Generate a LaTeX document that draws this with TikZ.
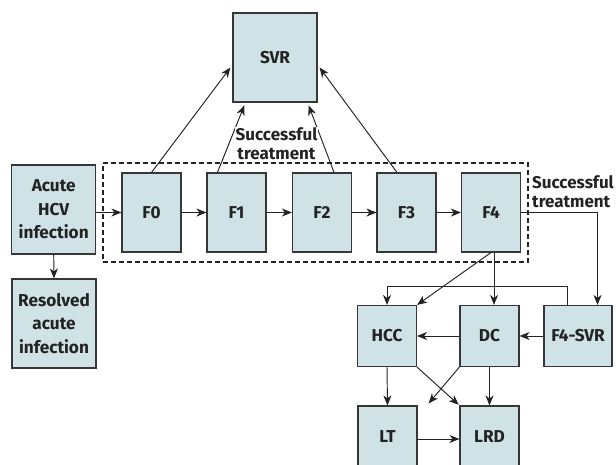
\documentclass[tikz,border=0pt]{standalone}
\usepackage{fontspec}
\setmainfont{Fira Sans}
\usetikzlibrary{arrows.meta,calc}
\definecolor{boxfill}{RGB}{207,226,230}
\definecolor{boxline}{RGB}{55,55,55}
\definecolor{ink}{RGB}{35,35,35}
\tikzset{
  box/.style={draw=boxline, fill=boxfill, line width=1.1pt, align=center, inner sep=0pt,
    font=\fontsize{17.2}{23.5}\selectfont\bfseries, text=ink},
  arr/.style={draw=ink, line width=0.95pt, -{Stealth[length=10pt,width=8pt,inset=3pt]}},
  grpbox/.style={draw=ink, line width=1.3pt, dash pattern=on 5pt off 3pt, inner sep=0pt},
  lbl/.style={font=\fontsize{17}{19}\selectfont\bfseries, text=ink, inner sep=1pt}
}
\begin{document}
\begin{tikzpicture}[x=1pt,y=-1pt]
\useasboundingbox (0,0) rectangle (616,464);
% group
\node[grpbox, minimum width=425pt, minimum height=99pt] (grp) at (315.5,212.5) {};
% boxes
\node[box, minimum width=84pt, minimum height=89pt] (SVR) at (275,57.5) {SVR};
\node[box, minimum width=84pt, minimum height=89pt] (Acute) at (53.7,209.5) {Acute\\HCV\\infection};
\node[box, minimum width=84pt, minimum height=89pt] (Res) at (54,323.5) {Resolved\\acute\\infection};
\node[box, minimum width=59pt, minimum height=79pt] (F0) at (151.5,212.5) {F0};
\node[box, minimum width=59pt, minimum height=79pt] (F1) at (236.5,212.5) {F1};
\node[box, minimum width=59pt, minimum height=79pt] (F2) at (322,212.5) {F2};
\node[box, minimum width=59pt, minimum height=79pt] (F3) at (406.5,212.5) {F3};
\node[box, minimum width=59pt, minimum height=79pt] (F4) at (491,212.5) {F4};
\node[box, minimum width=59pt, minimum height=61pt] (HCC) at (387,336) {HCC};
\node[box, minimum width=59pt, minimum height=61pt] (DC) at (489.5,336) {DC};
\node[box, minimum width=68pt, minimum height=61pt] (F4SVR) at (578,336) {F4-SVR};
\node[box, minimum width=59pt, minimum height=61pt] (LT) at (387.5,436.5) {LT};
\node[box, minimum width=59pt, minimum height=61pt] (LRD) at (489.5,436.5) {LRD};
% right label
\node[lbl, align=left, anchor=north west] (st2) at (531,174) {Successful\\treatment};
% connectors in main row
\draw[arr] (Acute.east |- F0.west) -- (F0.west);
\draw[arr] (Acute.south) -- (Res.north);
\draw[arr] (F0) -- (F1);
\draw[arr] (F1) -- (F2);
\draw[arr] (F2) -- (F3);
\draw[arr] (F3) -- (F4);
% to SVR
\draw[arr] (F0.north) -- ([xshift=-2pt,yshift=-10pt]SVR.west);
\draw[arr] (F3.north) ++(-9.5pt,0pt) -- ([xshift=2pt,yshift=-10pt]SVR.east);
\draw[arr, shorten >=3pt] ([xshift=11pt]F1.north west) -- ([xshift=13pt]SVR.south west);
\draw[arr, shorten >=3pt] ([xshift=-18pt]F2.north east) -- ([xshift=-10pt]SVR.south east);
\node[lbl, fill=white, align=center] (st1) at (276.5,144) {Successful\\treatment};
% lower part
\draw[arr] (F4.east) -| ([xshift=19.5pt]F4SVR.north);
\draw[arr] ([xshift=-11pt]F4SVR.north) -- ++(0pt,18pt) -| (HCC.north);
\draw[arr] ([xshift=3pt]F4.south) -- ([xshift=3pt]F4.south |- DC.north);
\draw[arr] (F4.south) -- (HCC.north east);
\draw[arr] (DC.west) -- (HCC.east);
\draw[arr] (F4SVR.west) -- (DC.east);
\draw[arr] (HCC.south) -- (LT.north);
\draw[arr] (DC.south) -- (LRD.north);
\draw[arr, shorten >=1pt] (HCC.south east) -- (LRD.north west);
\coordinate (dcend) at ($(LT.north east)+(11pt,2pt)$);
\draw[arr] (DC.south west) -- (dcend);
\draw[arr] (LT.east |- 0,439) -- (LRD.west |- 0,439);
\end{tikzpicture}
\end{document}
